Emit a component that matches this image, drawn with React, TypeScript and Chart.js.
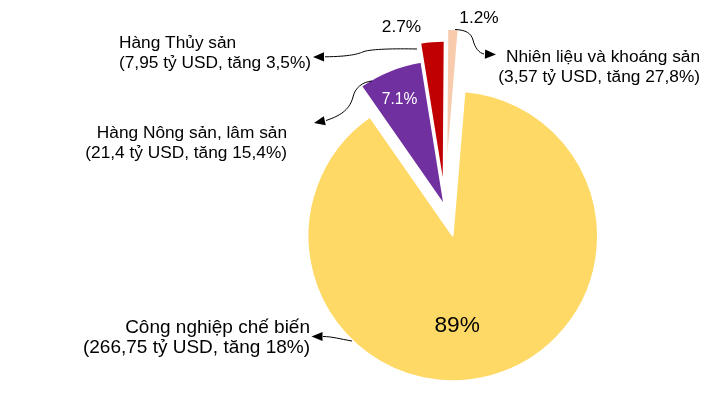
import React, { useEffect, useRef } from "react";
import { Chart, registerables } from "chart.js";

Chart.register(...registerables);

// ---- Data ----
const categories = [
  "Công nghiệp chế biến",
  "Hàng Nông sản, lâm sản",
  "Hàng Thủy sản",
  "Nhiên liệu và khoáng sản",
];
const valuesBillionUSD = [266.75, 21.4, 7.95, 3.57];
const growthLabels = ["18%", "15,4%", "3,5%", "27,8%"];
const shareLabels = ["89%", "7.1%", "2.7%", "1.2%"];

// ---- Styles ----
const sliceColors = ["#FFD966", "#7030A0", "#C00000", "#F8CBAD"];
const shareLabelColors = ["#000000", "#FFFFFF", "#000000", "#000000"];
const shareLabelSizes = [22.7, 15.6, 17.3, 17.3];
const explodeOffsets = [30, 2, 21, 33];
const FONT = '"Liberation Sans", Arial, Helvetica, sans-serif';

// share label placement relative to each exploded slice centre
const shareLabelShift = [
  [4.3, 89.3],
  [-44.7, -105.4],
  [-41.9, -159.1],
  [32.5, -156],
];

// callout text placement
const calloutLayout: { x: number; y: number; align: CanvasTextAlign; size: number; gap: number }[] = [
  { x: 310, y: 327.5, align: "right", size: 19, gap: 20.5 },
  { x: 287, y: 133.5, align: "right", size: 17.3, gap: 20 },
  { x: 119, y: 42.8, align: "left", size: 17.3, gap: 20 },
  { x: 700, y: 56.8, align: "right", size: 17.3, gap: 20 },
];

// connector paths: start, bezier segments, arrow tip
const connectors: { start: number[]; curves: number[][]; tip: number[] }[] = [
  { start: [352, 341], curves: [[340, 339, 332, 336.5, 323, 336.5]], tip: [311.5, 336.5] },
  {
    start: [372, 81],
    curves: [
      [362, 82, 355, 88, 353, 97],
      [350, 108, 343, 115, 326, 120.5],
    ],
    tip: [314, 123],
  },
  {
    start: [417, 49],
    curves: [
      [395, 48.5, 372, 49, 364, 51.5],
      [358, 54, 350, 56.5, 325, 56.8],
    ],
    tip: [313, 57],
  },
  {
    start: [455, 29.5],
    curves: [
      [466, 30, 471, 33, 473, 40],
      [475, 48, 479, 53, 484, 54],
    ],
    tip: [496, 54.5],
  },
];

const fmtNum = (v: number) => String(v).replace(".", ",");

const explodePlugin = {
  id: "explodeSlices",
  beforeDatasetDraw(chart: any, args: any) {
    const ctx = chart.ctx;
    args.meta.data.forEach((arc: any, i: number) => {
      const mid = (arc.startAngle + arc.endAngle) / 2;
      const d = explodeOffsets[i] || 0;
      ctx.save();
      ctx.translate(Math.cos(mid) * d, Math.sin(mid) * d);
      arc.draw(ctx);
      ctx.restore();
    });
    return false;
  },
};

const annotationPlugin = {
  id: "annotations",
  afterDraw(chart: any) {
    const ctx = chart.ctx as CanvasRenderingContext2D;
    const meta = chart.getDatasetMeta(0);
    ctx.save();
    // share labels
    meta.data.forEach((arc: any, i: number) => {
      const mid = (arc.startAngle + arc.endAngle) / 2;
      const d = explodeOffsets[i] || 0;
      const cx = arc.x + Math.cos(mid) * d;
      const cy = arc.y + Math.sin(mid) * d;
      ctx.font = `${shareLabelSizes[i]}px ${FONT}`;
      ctx.fillStyle = shareLabelColors[i];
      ctx.textAlign = "center";
      ctx.textBaseline = "middle";
      ctx.fillText(shareLabels[i], cx + shareLabelShift[i][0], cy + shareLabelShift[i][1]);
    });
    // callouts
    ctx.fillStyle = "#000000";
    ctx.textBaseline = "middle";
    categories.forEach((cat, i) => {
      const l = calloutLayout[i];
      ctx.font = `${l.size}px ${FONT}`;
      ctx.textAlign = l.align;
      ctx.fillText(cat, l.x, l.y);
      ctx.fillText(`(${fmtNum(valuesBillionUSD[i])} tỷ USD, tăng ${growthLabels[i]})`, l.x, l.y + l.gap);
    });
    // connectors
    ctx.strokeStyle = "#000000";
    ctx.lineWidth = 1;
    connectors.forEach((c) => {
      ctx.beginPath();
      ctx.moveTo(c.start[0], c.start[1]);
      let last = c.start;
      c.curves.forEach((s) => {
        ctx.bezierCurveTo(s[0], s[1], s[2], s[3], s[4], s[5]);
        last = [s[4], s[5]];
      });
      ctx.stroke();
      const dx = c.tip[0] - last[0];
      const dy = c.tip[1] - last[1];
      const len = Math.hypot(dx, dy) || 1;
      const ux = dx / len;
      const uy = dy / len;
      const headLen = 11;
      const half = 4.6;
      const bx = c.tip[0] - ux * headLen;
      const by = c.tip[1] - uy * headLen;
      ctx.beginPath();
      ctx.moveTo(c.tip[0], c.tip[1]);
      ctx.lineTo(bx - uy * half, by + ux * half);
      ctx.lineTo(bx + uy * half, by - ux * half);
      ctx.closePath();
      ctx.fillStyle = "#000000";
      ctx.fill();
    });
    ctx.restore();
  },
};

export default function App() {
  const ref = useRef<HTMLCanvasElement>(null);
  useEffect(() => {
    const canvas = ref.current;
    if (!canvas) return;
    const chart = new Chart(canvas, {
      type: "pie",
      data: {
        labels: categories,
        datasets: [
          {
            data: valuesBillionUSD,
            backgroundColor: sliceColors,
            borderColor: "#FFFFFF",
            borderWidth: 1.5,
          },
        ],
      },
      options: {
        responsive: false,
        animation: false,
        devicePixelRatio: 1,
        rotation: 4.7,
        radius: 145,
        events: [],
        layout: { padding: { left: 176, right: 0, top: 0, bottom: 6 } },
        plugins: { legend: { display: false }, tooltip: { enabled: false } },
      } as any,
      plugins: [explodePlugin, annotationPlugin],
    });
    return () => chart.destroy();
  }, []);
  return (
    <div style={{ position: "absolute", left: 0, top: 0, width: 714, height: 420, background: "#FFFFFF" }}>
      <canvas ref={ref} width={714} height={420} style={{ display: "block" }} />
    </div>
  );
}
